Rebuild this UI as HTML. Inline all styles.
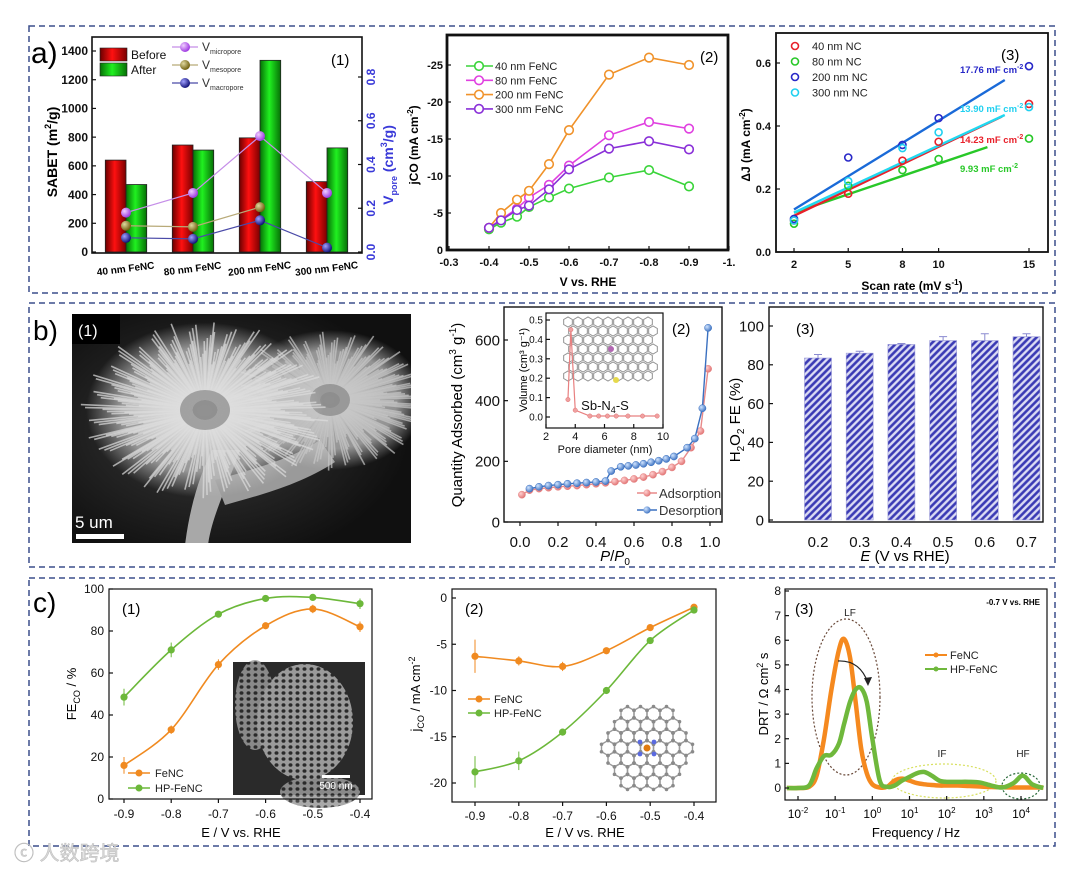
<!DOCTYPE html>
<html><head><meta charset="utf-8">
<style>
html,body{margin:0;padding:0;background:#fff;}
svg{display:block;font-family:"Liberation Sans","Noto Sans CJK SC",sans-serif;}
</style></head>
<body>
<svg id="fig" width="1080" height="871" viewBox="0 0 1080 871" xmlns="http://www.w3.org/2000/svg">
<defs>
<linearGradient id="gRed" x1="0" x2="1" y1="0" y2="0"><stop offset="0" stop-color="#6a0000"/><stop offset="0.45" stop-color="#ff1010"/><stop offset="1" stop-color="#7a0000"/></linearGradient>
<linearGradient id="gGreen" x1="0" x2="1" y1="0" y2="0"><stop offset="0" stop-color="#067006"/><stop offset="0.45" stop-color="#20f020"/><stop offset="1" stop-color="#067006"/></linearGradient>
<radialGradient id="bPur" cx="0.35" cy="0.35" r="0.7"><stop offset="0" stop-color="#f0d0ff"/><stop offset="1" stop-color="#9a30e0"/></radialGradient>
<radialGradient id="bMes" cx="0.35" cy="0.35" r="0.7"><stop offset="0" stop-color="#e0d8a0"/><stop offset="1" stop-color="#6a5a08"/></radialGradient>
<radialGradient id="bMac" cx="0.35" cy="0.35" r="0.7"><stop offset="0" stop-color="#a0a0ff"/><stop offset="1" stop-color="#0a0a70"/></radialGradient>
<radialGradient id="bRed" cx="0.35" cy="0.35" r="0.7"><stop offset="0" stop-color="#ffd0d0"/><stop offset="1" stop-color="#e07070"/></radialGradient>
<radialGradient id="bBlue" cx="0.35" cy="0.35" r="0.7"><stop offset="0" stop-color="#d0e4ff"/><stop offset="1" stop-color="#3a70c0"/></radialGradient>
<pattern id="hatch" width="5" height="5" patternUnits="userSpaceOnUse" patternTransform="rotate(45)"><rect width="5" height="5" fill="#dcdcf4"/><line x1="1.5" y1="0" x2="1.5" y2="5" stroke="#3a3ab4" stroke-width="2.6"/></pattern>
<radialGradient id="semGlow" cx="0.4" cy="0.5" r="0.6"><stop offset="0" stop-color="#3a3a3a"/><stop offset="1" stop-color="#101010"/></radialGradient>
<radialGradient id="flowerFill" cx="0.5" cy="0.5" r="0.5"><stop offset="0" stop-color="#e0e0e0"/><stop offset="0.7" stop-color="#bdbdbd"/><stop offset="1" stop-color="#bdbdbd" stop-opacity="0"/></radialGradient>
<pattern id="honey" width="7" height="6" patternUnits="userSpaceOnUse"><rect width="7" height="6" fill="#9a9a9a"/><ellipse cx="3.5" cy="3" rx="2" ry="1.8" fill="#2a2a2a"/></pattern>
</defs>

<rect x="29" y="26" width="1026" height="267" fill="none" stroke="#3b4f8c" stroke-width="1.5" stroke-dasharray="6 4"/>
<rect x="29" y="303" width="1026" height="264" fill="none" stroke="#3b4f8c" stroke-width="1.5" stroke-dasharray="6 4"/>
<rect x="29" y="578" width="1026" height="268" fill="none" stroke="#3b4f8c" stroke-width="1.5" stroke-dasharray="6 4"/>
<text x="31" y="63" font-size="30">a)</text>
<text x="33" y="340" font-size="28">b)</text>
<text x="33" y="612" font-size="28">c)</text>

<text transform="translate(57,152) rotate(-90)" font-size="14" font-weight="bold" text-anchor="middle">SABET (m<tspan font-size="9" dy="-6">2</tspan><tspan dy="6">/g)</tspan></text>
<text transform="translate(393,165) rotate(-90)" font-size="14" font-weight="bold" text-anchor="middle" fill="#3a3ad8">V<tspan font-size="9" dy="4">pore</tspan><tspan dy="-4"> (cm</tspan><tspan font-size="9" dy="-6">3</tspan><tspan dy="6">/g)</tspan></text>
<text x="331" y="65" font-size="15">(1)</text>
<text transform="translate(418,145) rotate(-90)" font-size="12" font-weight="bold" text-anchor="middle">jCO (mA cm<tspan font-size="8" dy="-5">-2</tspan><tspan dy="5">)</tspan></text>
<text x="588" y="286" font-size="12" font-weight="bold" text-anchor="middle">V vs. RHE</text>
<text x="700" y="62" font-size="15">(2)</text>
<text transform="translate(750,145) rotate(-90)" font-size="12" font-weight="bold" text-anchor="middle">ΔJ (mA cm<tspan font-size="8" dy="-5">-2</tspan><tspan dy="5">)</tspan></text>
<text x="912" y="290" font-size="12" font-weight="bold" text-anchor="middle">Scan rate (mV s<tspan font-size="8" dy="-5">-1</tspan><tspan dy="5">)</tspan></text>
<text x="1001" y="60" font-size="15">(3)</text>

<text transform="translate(462,415) rotate(-90)" font-size="15" text-anchor="middle">Quantity Adsorbed (cm<tspan font-size="10" dy="-6">3</tspan><tspan dy="6"> g</tspan><tspan font-size="10" dy="-6">-1</tspan><tspan dy="6">)</tspan></text>
<text x="615" y="561" font-size="15" font-style="italic" text-anchor="middle">P<tspan font-style="normal">/</tspan>P<tspan font-size="10" dy="4" font-style="normal">0</tspan></text>
<text x="672" y="334" font-size="15">(2)</text>
<text transform="translate(740,420) rotate(-90)" font-size="15" text-anchor="middle">H<tspan font-size="10" dy="4">2</tspan><tspan dy="-4">O</tspan><tspan font-size="10" dy="4">2</tspan><tspan dy="-4"> FE (%)</tspan></text>
<text x="905" y="561" font-size="15" text-anchor="middle"><tspan font-style="italic">E</tspan> (V vs RHE)</text>
<text x="796" y="334" font-size="15">(3)</text>

<text transform="translate(76,694) rotate(-90)" font-size="13" text-anchor="middle">FE<tspan font-size="9" dy="4">CO</tspan><tspan dy="-4"> / %</tspan></text>
<text x="241" y="837" font-size="13" text-anchor="middle">E / V vs. RHE</text>
<text x="122" y="614" font-size="15">(1)</text>
<text transform="translate(420,694) rotate(-90)" font-size="13" text-anchor="middle">j<tspan font-size="9" dy="4">CO</tspan><tspan dy="-4"> / mA cm</tspan><tspan font-size="9" dy="-5">-2</tspan></text>
<text x="585" y="837" font-size="13" text-anchor="middle">E / V vs. RHE</text>
<text x="465" y="614" font-size="15">(2)</text>
<text transform="translate(768,694) rotate(-90)" font-size="13" text-anchor="middle">DRT / Ω cm<tspan font-size="9" dy="-5">2</tspan><tspan dy="5"> s</tspan></text>
<text x="916" y="837" font-size="13" text-anchor="middle">Frequency / Hz</text>
<text x="795" y="614" font-size="15">(3)</text>
<text x="1040" y="605" font-size="8" font-weight="bold" text-anchor="end">-0.7 V vs. RHE</text>
<text x="14" y="860" font-size="20" fill="#d8d8d8" stroke="#bbb" stroke-width="0.5">ⓒ 人数跨境</text>
</svg>

<script>
// ---------- DATA ----------
const a1Cats=['40 nm FeNC','80 nm FeNC','200 nm FeNC','300 nm FeNC'];
const a1Before=[640,745,795,490];
const a1After=[470,710,1335,725];
const a1Micro=[0.18,0.27,0.53,0.27];
const a1Meso=[0.12,0.115,0.205,null];
const a1Macro=[0.065,0.06,0.145,0.02];
const a1LeftTicks=[0,200,400,600,800,1000,1200,1400];
const a1RightTicks=[0,0.2,0.4,0.6,0.8];

const a2V=[-0.4,-0.43,-0.47,-0.5,-0.55,-0.6,-0.7,-0.8,-0.9];
const a2Names=['40 nm FeNC','80 nm FeNC','200 nm FeNC','300 nm FeNC'];
const a2S40=[-2.8,-3.7,-4.5,-5.8,-7.1,-8.3,-9.8,-10.8,-8.6];
const a2S80=[-3,-4.1,-5.6,-7.1,-8.8,-11.4,-15.5,-17.3,-16.4];
const a2S200=[-3,-5,-6.8,-8,-11.6,-16.2,-23.7,-26,-25];
const a2S300=[-3,-4,-5.4,-6,-8.2,-10.9,-13.7,-14.7,-13.6];
const a2XTicks=[-0.3,-0.4,-0.5,-0.6,-0.7,-0.8,-0.9,-1.0];
const a2YTicks=[0,-5,-10,-15,-20,-25];

const a3Rate=[2,5,8,10,15];
const a3Names=['40 nm NC','80 nm NC','200 nm NC','300 nm NC'];
const a3S40=[0.10,0.185,0.29,0.35,0.47];
const a3S80=[0.09,0.21,0.26,0.295,0.36];
const a3S200=[0.105,0.30,0.34,0.425,0.59];
const a3S300=[0.10,0.225,0.33,0.38,0.46];
const a3FitStart=[0.115,0.125,0.135,0.125];
const a3FitEnd=[0.43,0.333,0.546,0.435];
const a3FitEndX=[13.5,12.7,13.66,13.66];
const a3Slopes=['14.23 mF cm','9.93 mF cm','17.76 mF cm','13.90 mF cm'];
const a3XTicks=[2,5,8,10,15];
const a3YTicks=[0,0.2,0.4,0.6];

const b2AdsP=[0.01,0.05,0.1,0.15,0.2,0.25,0.3,0.35,0.4,0.45,0.5,0.55,0.6,0.65,0.7,0.75,0.8,0.85,0.9,0.95,0.99];
const b2AdsQ=[90,105,110,113,116,118,120,123,126,129,133,137,142,148,156,166,180,200,245,300,505];
const b2DesP=[0.05,0.1,0.15,0.2,0.25,0.3,0.35,0.4,0.45,0.48,0.53,0.57,0.61,0.65,0.69,0.73,0.77,0.81,0.88,0.92,0.96,0.99];
const b2DesQ=[110,116,120,123,126,128,130,132,135,168,182,185,188,192,197,202,208,216,245,275,375,640];
const b2XTicks=[0,0.2,0.4,0.6,0.8,1.0];
const b2YTicks=[0,200,400,600];
const b2InD=[3.5,3.7,4.0,5.0,5.6,6.2,6.8,7.6,8.6,9.6];
const b2InV=[0.09,0.45,0.035,0.005,0.005,0.005,0.005,0.005,0.005,0.005];
const b2InXTicks=[2,4,6,8,10];
const b2InYTicks=[0,0.1,0.2,0.3,0.4,0.5];

const b3E=[0.2,0.3,0.4,0.5,0.6,0.7];
const b3FE=[83.5,86,90.5,92.5,92.5,94.5];
const b3Err=[1.8,1,0.5,2,3.5,1.5];
const b3YTicks=[0,20,40,60,80,100];

const cV=[-0.9,-0.8,-0.7,-0.6,-0.5,-0.4];
const c1FeNC=[16,33,64,82.5,90.5,82];
const c1FeNCErr=[4,2,2.5,1.5,2,2.5];
const c1HP=[48.5,71,88,95.5,96,93];
const c1HPErr=[4,3.5,1,1,1,2.5];
const c1YTicks=[0,20,40,60,80,100];
const c2FeNC=[-6.3,-6.8,-7.4,-5.7,-3.2,-1];
const c2FeNCErr=[1.8,0.5,0.5,0.2,0.3,0.3];
const c2HP=[-18.8,-17.6,-14.5,-10,-4.6,-1.3];
const c2HPErr=[1.7,1,0.3,0.3,0.2,0.3];
const c2YTicks=[0,-5,-10,-15,-20];
const c3LogF=[-2.3,-2,-1.7,-1.5,-1.3,-1.1,-0.9,-0.76,-0.6,-0.45,-0.3,-0.15,0,0.2,0.4,0.6,0.8,1.0,1.2,1.4,1.6,1.8,2.0,2.3,2.6,2.9,3.2,3.5,3.8,4.05,4.3,4.6];
const c3FeNC=[0,0,0.05,0.5,2.0,4.0,5.6,6.05,5.3,3.5,1.6,0.6,0.15,0.02,0.05,0.3,0.38,0.3,0.2,0.15,0.12,0.1,0.1,0.1,0.08,0.06,0.04,0.03,0.02,0.02,0.02,0.02];
const c3HP=[0,0,0.1,0.8,1.3,1.35,1.8,2.6,3.5,4.0,4.05,3.5,2.0,0.3,0.05,0.1,0.3,0.45,0.6,0.65,0.5,0.3,0.25,0.25,0.25,0.22,0.1,0.02,0.2,0.5,0.15,0];
const c3YTicks=[0,1,2,3,4,5,6,7,8];
const c3XDecades=[-2,-1,0,1,2,3,4];

// ---------- HELPERS ----------
const NS='http://www.w3.org/2000/svg';
const svg=document.getElementById('fig');
function mk(tag,attrs,parent){const e=document.createElementNS(NS,tag);for(const k in attrs)e.setAttribute(k,attrs[k]);(parent||svg).appendChild(e);return e;}
function lin(d0,d1,r0,r1){return v=>r0+(v-d0)*(r1-r0)/(d1-d0);}
function T(x,y,s,fs,anchor,weight,fill){const e=mk('text',{x:x,y:y,'font-size':fs,'text-anchor':anchor,'font-weight':weight||'normal',fill:fill||'#111'});e.textContent=s;return e;}
function smooth(pts){let d='M'+pts[0][0]+','+pts[0][1];for(let i=0;i<pts.length-1;i++){const p0=pts[i-1]||pts[i],p1=pts[i],p2=pts[i+1],p3=pts[i+2]||p2;const c1x=p1[0]+(p2[0]-p0[0])/6,c1y=p1[1]+(p2[1]-p0[1])/6,c2x=p2[0]-(p3[0]-p1[0])/6,c2y=p2[1]-(p3[1]-p1[1])/6;d+=' C'+c1x+','+c1y+' '+c2x+','+c2y+' '+p2[0]+','+p2[1];}return d;}
function box(x0,y0,x1,y1,sw,name){const r=mk('rect',{x:x0,y:y0,width:x1-x0,height:y1-y0,fill:'none',stroke:'#111','stroke-width':sw});

}
function yTicks(vals,labs,yS,xa,dir,lx,fs,weight,fill,anchor,name){vals.forEach((v,i)=>{const y=yS(v);const l=mk('line',{x1:xa,x2:xa+dir*4,y1:y,y2:y,stroke:'#111','stroke-width':1.2});


const t=T(lx,y+fs*0.35,labs[i],fs,anchor,weight,fill);

});}
function xTicks(vals,labs,xS,ya,dir,ly,fs,weight,name){vals.forEach((v,i)=>{const x=xS(v);const l=mk('line',{x1:x,x2:x,y1:ya,y2:ya+dir*4,stroke:'#111','stroke-width':1.2});


const t=T(x,ly,labs[i],fs,'middle',weight);

});}
function fmt(v,d){return v.toFixed(d);}

// ---------- A1 ----------
(function(){
const yL=lin(0,1400,252,51), yR=lin(0,0.8,252,77);
const xc=i=>126+i*67, bw=20.7;
a1Cats.forEach((c,i)=>{
 const r=mk('rect',{x:xc(i)-bw,y:yL(a1Before[i]),width:bw,height:252-yL(a1Before[i]),fill:'url(#gRed)',stroke:'#222','stroke-width':0.8});
 
 
 const g=mk('rect',{x:xc(i),y:yL(a1After[i]),width:bw,height:252-yL(a1After[i]),fill:'url(#gGreen)',stroke:'#222','stroke-width':0.8});
 
 
 const t=mk('text',{x:xc(i),y:272,'font-size':10,'font-weight':'bold','text-anchor':'middle',transform:'rotate(-7 '+xc(i)+' 272)'});
 t.textContent=c;
 
 
});
[[a1Micro,'#c58ee8','url(#bPur)','micropore'],[a1Meso,'#b8aa78','url(#bMes)','mesopore'],[a1Macro,'#4a4aa8','url(#bMac)','macropore']].forEach(s=>{
 const pts=[];s[0].forEach((v,i)=>{if(v!==null)pts.push([xc(i),yR(v)]);});
 const p=mk('polyline',{points:pts.map(q=>q.join(',')).join(' '),fill:'none',stroke:s[1],'stroke-width':1.2});
 
 
 pts.forEach(q=>{const c=mk('circle',{cx:q[0],cy:q[1],r:5,fill:s[2]});
 
 });
});
box(92,37,362,253,1.6,'a1-plot-frame');
yTicks(a1LeftTicks,a1LeftTicks.map(String),yL,92,1,88,12,'bold','#111','end','a1-y');
a1RightTicks.forEach(v=>{const y=yR(v);const l=mk('line',{x1:362,x2:358,y1:y,y2:y,stroke:'#111','stroke-width':1.2});
 
 
 const t=mk('text',{x:0,y:0,'font-size':12,'font-weight':'bold',fill:'#3a3ad8','text-anchor':'middle',transform:'translate(375,'+y+') rotate(-90)'});
 t.textContent=fmt(v,1);
 
 });
[['Before','url(#gRed)',48],['After','url(#gGreen)',63]].forEach(l=>{const r=mk('rect',{x:100,y:l[2],width:27,height:13,fill:l[1],stroke:'#222','stroke-width':0.6});
 
 
 const t=T(131,l[2]+11,l[0],12,'start','normal');
 
 });
[['micropore','#c58ee8','url(#bPur)',47],['mesopore','#b8aa78','url(#bMes)',65],['macropore','#4a4aa8','url(#bMac)',83]].forEach(l=>{
 const ln=mk('line',{x1:172,x2:198,y1:l[3],y2:l[3],stroke:l[1],'stroke-width':1.2});
 
 
 const c=mk('circle',{cx:185,cy:l[3],r:5,fill:l[2]});
 
 
 const t=mk('text',{x:202,y:l[3]+4,'font-size':12,fill:'#333'});
 
 
 t.textContent='V';
 const ts=mk('tspan',{'font-size':7,dy:3},t);
 ts.textContent=l[0];});
})();

// ---------- A2 ----------
(function(){
const x=lin(-0.3,-1.0,449,729), y=lin(0,-25,250,65);
const series=[a2S40,a2S80,a2S200,a2S300], cols=['#3ad43a','#e040e0','#f0922a','#8a30d8'];
series.forEach((s,k)=>{const pts=s.map((v,i)=>[x(a2V[i]),y(v)]);
 const p=mk('polyline',{points:pts.map(q=>q.join(',')).join(' '),fill:'none',stroke:cols[k],'stroke-width':1.6});
 
 
 pts.forEach(q=>{const c=mk('circle',{cx:q[0],cy:q[1],r:4.3,fill:'#fff',stroke:cols[k],'stroke-width':1.6});
 
 });
 const ly=66+k*14.3;
 const ll=mk('line',{x1:466,x2:493,y1:ly,y2:ly,stroke:cols[k],'stroke-width':1.6});
 
 
 const lc=mk('circle',{cx:479,cy:ly,r:4.3,fill:'#fff',stroke:cols[k],'stroke-width':1.6});
 
 
 const t=T(495,ly+4,a2Names[k],11,'start','normal','#222');
 
 });
box(447,35,728,250,2.8,'a2-plot-frame');
xTicks(a2XTicks,a2XTicks.map(v=>v===-1?'-1.':fmt(v,1)),x,250,-1,266,11,'bold','a2-x');
yTicks(a2YTicks,a2YTicks.map(String),y,447,1,443,11,'bold','#111','end','a2-y');
})();

// ---------- A3 ----------
(function(){
const x=lin(2,15,794,1029), y=lin(0,0.6,252,63);
const series=[a3S40,a3S80,a3S200,a3S300], cols=['#e8202a','#28c828','#2828c8','#20d0f0'], lcols=['#e8202a','#28c828','#1a6ad8','#20d8f0'];
const ly=[143,172,73,112];
[1,0,3,2].forEach(k=>{const l=mk('line',{x1:x(2),y1:y(a3FitStart[k]),x2:x(a3FitEndX[k]),y2:y(a3FitEnd[k]),stroke:lcols[k],'stroke-width':2.4});
 
 });
series.forEach((s,k)=>{s.forEach((v,i)=>{const c=mk('circle',{cx:x(a3Rate[i]),cy:y(v),r:3.5,fill:'none',stroke:cols[k],'stroke-width':1.6});
 
 });
 const t=mk('text',{x:960,y:ly[k],'font-size':9.5,'font-weight':'bold',fill:cols[k]});
 t.textContent=a3Slopes[k];
 const ts=mk('tspan',{'font-size':7,dy:-4},t);
 ts.textContent='-2';
 
 
 const lyy=46+k*15.5;
 const lc=mk('circle',{cx:795,cy:lyy,r:3.5,fill:'none',stroke:cols[k],'stroke-width':1.6});
 
 
 const lt=T(812,lyy+4,a3Names[k],11,'start','normal','#222');
 
 });
box(776,33,1048,252,1.8,'a3-plot-frame');
xTicks(a3XTicks,a3XTicks.map(String),x,252,-1,268,11,'bold','a3-x');
yTicks(a3YTicks,a3YTicks.map(v=>fmt(v,1)),y,776,1,771,11,'bold','#111','end','a3-y');
})();

// ---------- B1 SEM (decorative) ----------
(function(){
const g=mk('g',{});


mk('rect',{x:72,y:314,width:339,height:229,fill:'url(#semGlow)'},g);
const clip=mk('clipPath',{id:'semClip'});mk('rect',{x:72,y:314,width:339,height:229},clip);
const gg=mk('g',{'clip-path':'url(#semClip)'},g);
mk('path',{d:'M185,545 C190,505 200,475 212,450 L240,450 C228,485 212,515 208,545 Z',fill:'#a8a8a8'},gg);
mk('path',{d:'M215,480 C250,470 290,460 320,440 L335,462 C300,485 260,495 225,505 Z',fill:'#9a9a9a'},gg);
const flowers=[[330,400,100,220,'#c8c8c8'],[205,410,125,300,'#dedede']];
flowers.forEach(f=>{
 mk('ellipse',{cx:f[0],cy:f[1],rx:f[2]*0.95,ry:f[2]*0.7,fill:'url(#flowerFill)',opacity:0.75},gg);
 for(let i=0;i<f[3];i++){const a=i*2.39996;const r=f[2]*(0.5+0.5*((i*37)%100)/100);
 const r0=f[2]*0.1;mk('line',{x1:f[0]+r0*Math.cos(a),y1:f[1]+r0*0.8*Math.sin(a),x2:f[0]+r*Math.cos(a),y2:f[1]+r*0.72*Math.sin(a),stroke:f[4],'stroke-width':1.6,opacity:0.7},gg);}
 mk('ellipse',{cx:f[0],cy:f[1],rx:f[2]*0.2,ry:f[2]*0.16,fill:'#7a7a7a',opacity:0.6},gg);});
mk('rect',{x:72,y:314,width:48,height:30,fill:'#000'},g);
})();
{const t=T(78,336,'(1)',16,'start','normal','#fff');
const s=T(75,528,'5 um',17,'start','normal','#fff');
const b=mk('rect',{x:76,y:534,width:48,height:5,fill:'#fff'});}

// ---------- B2 ----------
(function(){
const x=lin(0,1,520,710), y=lin(0,600,522,340);
[[b2AdsP,b2AdsQ,'#e88a8a','url(#bRed)','adsorption'],[b2DesP,b2DesQ,'#3a70c0','url(#bBlue)','desorption']].forEach(s=>{
 const pts=s[0].map((p,i)=>[x(p),y(s[1][i])]);
 const l=mk('polyline',{points:pts.map(q=>q.join(',')).join(' '),fill:'none',stroke:s[2],'stroke-width':1.4});
 
 
 pts.forEach(q=>{const c=mk('circle',{cx:q[0],cy:q[1],r:3.6,fill:s[3],stroke:s[2],'stroke-width':0.5});
 
 });});
box(504,307,722,522,1.4,'b2-plot-frame');
xTicks(b2XTicks,b2XTicks.map(v=>fmt(v,1)),x,522,1,547,15,'normal','b2-x');
yTicks(b2YTicks,b2YTicks.map(String),y,504,1,500,15,'normal','#111','end','b2-y');
[['Adsorption','#e88a8a','url(#bRed)',493],['Desorption','#3a70c0','url(#bBlue)',510]].forEach(l=>{
 const ln=mk('line',{x1:637,x2:657,y1:l[3],y2:l[3],stroke:l[1],'stroke-width':1.4});
 
 
 const c=mk('circle',{cx:647,cy:l[3],r:3.6,fill:l[2]});
 
 
 const t=T(659,l[3]+5,l[0],13,'start','normal','#333');
 
 });
const ix=lin(2,10,546,663), iy=lin(0,0.5,417,320);
const bg=mk('rect',{x:546,y:313,width:117,height:115,fill:'#fff'});


const mg=mk('g',{opacity:0.8});


for(let r=0;r<7;r++)for(let c=0;c<9;c++){const cx=568+c*10+(r%2)*5, cy=322+r*9;mk('polygon',{points:[0,1,2,3,4,5].map(k=>{const a=Math.PI/6+k*Math.PI/3;return (cx+5*Math.cos(a))+','+(cy+5*Math.sin(a));}).join(' '),fill:'none',stroke:'#777','stroke-width':1},mg);}
mk('circle',{cx:611,cy:349,r:3,fill:'#a040a0'},mg);mk('circle',{cx:616,cy:380,r:3,fill:'#e0d020'},mg);
const it=T(605,410,'Sb-N',13,'middle','normal','#111');
const its=mk('tspan',{'font-size':9,dy:3},it);its.textContent='4';
const its2=mk('tspan',{dy:-3},it);its2.textContent='-S';


const ip=b2InD.map((d,i)=>[ix(d),iy(b2InV[i])]);
const il=mk('polyline',{points:ip.map(q=>q.join(',')).join(' '),fill:'none',stroke:'#e88080','stroke-width':1.2});


ip.forEach(q=>{const c=mk('circle',{cx:q[0],cy:q[1],r:2.2,fill:'#f0a0a0',stroke:'#e07070','stroke-width':0.5});
 
 });
box(546,313,663,428,1.2,'inset-frame');
xTicks(b2InXTicks,b2InXTicks.map(String),ix,428,-1,440,11,'normal','inset-x');
yTicks(b2InYTicks,b2InYTicks.map(v=>fmt(v,1)),iy,546,1,543,10,'normal','#111','end','inset-y');
const ixt=T(605,453,'Pore diameter (nm)',11,'middle','normal','#111');


const iyt=mk('text',{x:0,y:0,'font-size':11,'text-anchor':'middle',transform:'translate(527,370) rotate(-90)'});
iyt.textContent='Volume (cm³ g⁻¹)';


})();

// ---------- B3 ----------
(function(){
const xc=i=>818+i*41.7, y=lin(0,100,520,326), bw=27;
b3E.forEach((e,i)=>{const r=mk('rect',{x:xc(i)-bw/2,y:y(b3FE[i]),width:bw,height:520-y(b3FE[i]),fill:'url(#hatch)',stroke:'#9a9ad8','stroke-width':0.6});
 
 
 const eb=mk('path',{d:'M'+xc(i)+','+y(b3FE[i])+' V'+y(b3FE[i]+b3Err[i])+' M'+(xc(i)-4)+','+y(b3FE[i]+b3Err[i])+' H'+(xc(i)+4),stroke:'#8a8ad0','stroke-width':1,fill:'none'});
 
 
 const t=T(xc(i),547,fmt(e,1),15,'middle','normal');
 
 });
box(769,307,1043,522,1.4,'b3-plot-frame');
yTicks(b3YTicks,b3YTicks.map(String),y,769,1,764,15,'normal','#111','end','b3-y');
})();

// ---------- C1 ----------
(function(){
const x=lin(-0.9,-0.4,124,360), y=lin(0,100,799,589);
const sem=mk('g',{});


mk('rect',{x:233,y:662,width:132,height:133,fill:'#2a2a2a'},sem);
mk('ellipse',{cx:305,cy:722,rx:48,ry:58,fill:'url(#honey)'},sem);
mk('ellipse',{cx:255,cy:705,rx:20,ry:45,fill:'url(#honey)',opacity:0.85},sem);
mk('ellipse',{cx:320,cy:792,rx:40,ry:16,fill:'url(#honey)',opacity:0.85},sem);
mk('rect',{x:322,y:775,width:28,height:3,fill:'#fff'},sem);
const st=T(336,789,'500 nm',10,'middle','normal','#fff');


[[c1FeNC,c1FeNCErr,'#f08a20','fenc'],[c1HP,c1HPErr,'#6cb83a','hp-fenc']].forEach(s=>{
 const pts=cV.map((v,i)=>[x(v),y(s[0][i])]);
 const p=mk('path',{d:smooth(pts),fill:'none',stroke:s[2],'stroke-width':1.6});
 
 
 pts.forEach((q,i)=>{const e=mk('line',{x1:q[0],x2:q[0],y1:y(s[0][i]-s[1][i]),y2:y(s[0][i]+s[1][i]),stroke:s[2],'stroke-width':1});
 
 
 const c=mk('circle',{cx:q[0],cy:q[1],r:3.6,fill:s[2]});
 
 });});
box(109,589,372,799,1.2,'c1-plot-frame');
xTicks(cV,cV.map(v=>fmt(v,1)),x,799,1,818,12,'normal','c1-x');
yTicks(c1YTicks,c1YTicks.map(String),y,109,1,104,12,'normal','#111','end','c1-y');
[['FeNC','#f08a20',773],['HP-FeNC','#6cb83a',788]].forEach(l=>{const ln=mk('line',{x1:128,x2:150,y1:l[2],y2:l[2],stroke:l[1],'stroke-width':1.6});
 
 
 const c=mk('circle',{cx:139,cy:l[2],r:3.5,fill:l[1]});
 
 
 const t=T(155,l[2]+4,l[0],11,'start','normal','#222');
 
 });
})();

// ---------- C2 ----------
(function(){
const x=lin(-0.9,-0.4,475,694), y=lin(0,-20,598,783);
[[c2FeNC,c2FeNCErr,'#f08a20','fenc'],[c2HP,c2HPErr,'#6cb83a','hp-fenc']].forEach(s=>{
 const pts=cV.map((v,i)=>[x(v),y(s[0][i])]);
 const p=mk('path',{d:smooth(pts),fill:'none',stroke:s[2],'stroke-width':1.6});
 
 
 pts.forEach((q,i)=>{const e=mk('line',{x1:q[0],x2:q[0],y1:y(s[0][i]-s[1][i]),y2:y(s[0][i]+s[1][i]),stroke:s[2],'stroke-width':1});
 
 
 const c=mk('circle',{cx:q[0],cy:q[1],r:3.6,fill:s[2]});
 
 });});
const mg=mk('g',{});


const cx0=647,cy0=748;
for(let r=-4;r<=4;r++)for(let c=-4;c<=4;c++){const hx=cx0+c*13+(Math.abs(r)%2)*6.5, hy=cy0+r*11.3;if(Math.hypot(hx-cx0,hy-cy0)>42)continue;
 mk('polygon',{points:[0,1,2,3,4,5].map(k=>{const a=Math.PI/6+k*Math.PI/3;return (hx+7.5*Math.cos(a))+','+(hy+7.5*Math.sin(a));}).join(' '),fill:'none',stroke:'#9a9a9a','stroke-width':1.4},mg);
 [0,1,2,3,4,5].forEach(k=>{const a=Math.PI/6+k*Math.PI/3;mk('circle',{cx:hx+7.5*Math.cos(a),cy:hy+7.5*Math.sin(a),r:1.8,fill:'#8a8a8a'},mg);});}
[[-7,-6],[7,-6],[-7,6],[7,6]].forEach(d=>mk('circle',{cx:cx0+d[0],cy:cy0+d[1],r:2.4,fill:'#5a6ae0'},mg));
mk('circle',{cx:cx0,cy:cy0,r:3.5,fill:'#e07a10'},mg);
box(452,589,716,802,1.2,'c2-plot-frame');
xTicks(cV,cV.map(v=>fmt(v,1)),x,802,1,820,12,'normal','c2-x');
yTicks(c2YTicks,c2YTicks.map(String),y,452,1,447,12,'normal','#111','end','c2-y');
[['FeNC','#f08a20',699],['HP-FeNC','#6cb83a',713]].forEach(l=>{const ln=mk('line',{x1:468,x2:490,y1:l[2],y2:l[2],stroke:l[1],'stroke-width':1.6});
 
 
 const c=mk('circle',{cx:479,cy:l[2],r:3.5,fill:l[1]});
 
 
 const t=T(494,l[2]+4,l[0],11,'start','normal','#222');
 
 });
})();

// ---------- C3 ----------
(function(){
const x=lin(-2,4,798,1021), y=lin(0,8,788,591);
const e1=mk('ellipse',{cx:846,cy:697,rx:34,ry:78,fill:'none',stroke:'#6a4a3a','stroke-width':1.2,'stroke-dasharray':'2 2'});


const e2=mk('ellipse',{cx:944,cy:781,rx:52,ry:17,fill:'none',stroke:'#d8e060','stroke-width':1.2,'stroke-dasharray':'2 2'});


const e3=mk('ellipse',{cx:1021,cy:786,rx:19,ry:13,fill:'none',stroke:'#2a6a3a','stroke-width':1.2,'stroke-dasharray':'2 2'});


[[c3FeNC,'#f5891f','fenc',4.5],[c3HP,'#6fb83c','hp-fenc',4.5]].forEach(s=>{
 const pts=c3LogF.map((f,i)=>[x(f),y(s[0][i])]);
 const p=mk('path',{d:smooth(pts),fill:'none',stroke:s[1],'stroke-width':s[3],'stroke-linejoin':'round'});
 
 });
const ar=mk('path',{d:'M838,661 Q860,660 868,683',fill:'none',stroke:'#222','stroke-width':1.2});


const ah=mk('path',{d:'M864,678 L868,686 L872,677 Z',fill:'#222'});


[['LF',850,616],['IF',942,757],['HF',1023,757]].forEach(l=>{const t=T(l[1],l[2],l[0],10,'middle','normal','#222');
 
 });
box(785,589,1047,800,1.2,'c3-plot-frame');
yTicks(c3YTicks,c3YTicks.map(String),y,785,1,781,12,'normal','#111','end','c3-y');
c3XDecades.forEach(d=>{const xx=x(d);const l=mk('line',{x1:xx,x2:xx,y1:800,y2:796,stroke:'#111','stroke-width':1.2});
 
 
 const t=mk('text',{x:xx,y:818,'font-size':12,'text-anchor':'middle'});
 t.textContent='10';
 const ts=mk('tspan',{'font-size':8,dy:-5},t);
 ts.textContent=String(d);
 
 });
[['FeNC','#f5891f',655],['HP-FeNC','#6fb83c',669]].forEach(l=>{const ln=mk('line',{x1:925,x2:947,y1:l[2],y2:l[2],stroke:l[1],'stroke-width':2});
 
 
 const c=mk('circle',{cx:936,cy:l[2],r:2.5,fill:l[1]});
 
 
 const t=T(950,l[2]+4,l[0],11,'start','normal','#222');
 
 });
})();
</script>
</body></html>
